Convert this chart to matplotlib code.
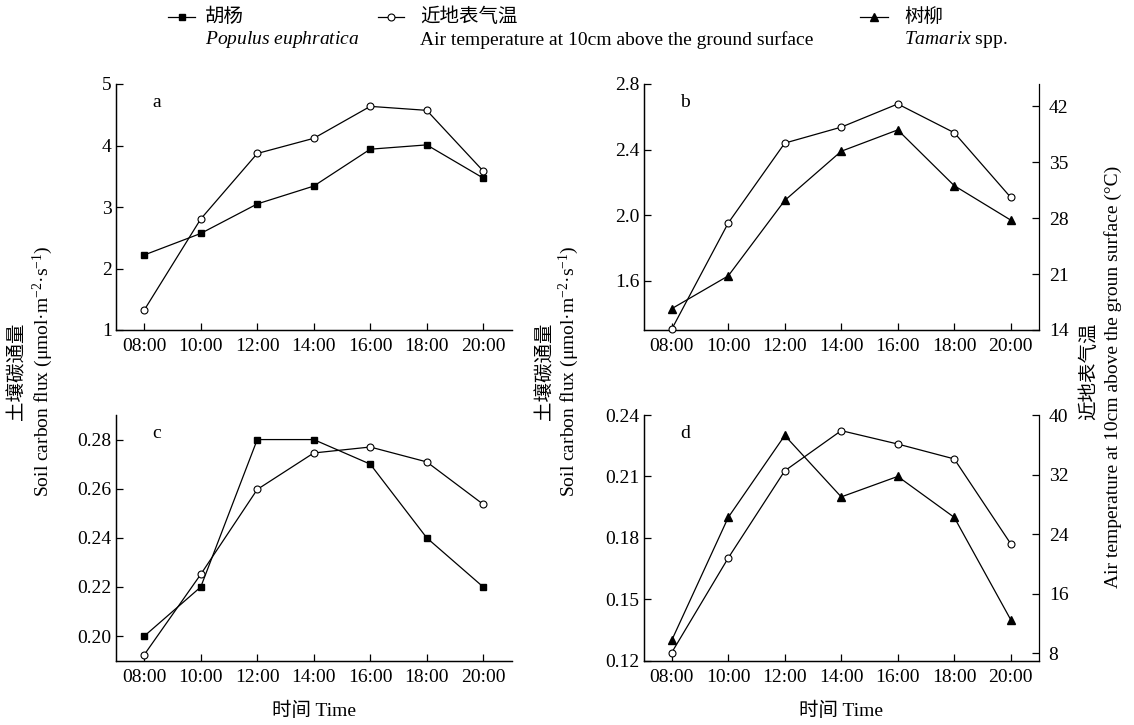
import matplotlib.pyplot as plt
from matplotlib.lines import Line2D

plt.rcParams['font.family'] = ['Liberation Serif', 'Noto Sans CJK SC']
plt.rcParams['mathtext.fontset'] = 'custom'
plt.rcParams['mathtext.rm'] = 'Liberation Serif'
plt.rcParams['mathtext.it'] = 'Liberation Serif:italic'
plt.rcParams['axes.unicode_minus'] = False

# données
times = ['08:00', '10:00', '12:00', '14:00', '16:00', '18:00', '20:00']

# a : 胡杨 / b : 树柳 (même journée)
flux_a = [2.22, 2.57, 3.05, 3.34, 3.94, 4.01, 3.47]
temp_a = [16.5, 27.9, 36.1, 38.0, 42.0, 41.5, 33.9]
flux_b = [1.43, 1.63, 2.09, 2.39, 2.52, 2.18, 1.97]
temp_b = [14.1, 27.4, 37.4, 39.4, 42.3, 38.7, 30.6]

# c : 胡杨 / d : 树柳
flux_c = [0.20, 0.22, 0.28, 0.28, 0.27, 0.24, 0.22]
temp_c = [7.8, 18.6, 30.0, 34.9, 35.7, 33.7, 28.0]
flux_d = [0.13, 0.19, 0.23, 0.20, 0.21, 0.19, 0.14]
temp_d = [8.1, 20.8, 32.5, 37.9, 36.1, 34.1, 22.7]

W, H = 1134, 725
fig = plt.figure(figsize=(W / 100, H / 100), dpi=100)

sq = dict(color='black', lw=0.9, marker='s', ms=4.8, mfc='black', mec='black', clip_on=False)
ci = dict(color='black', lw=0.9, marker='o', ms=5, mfc='white', mec='black', mew=0.8, clip_on=False)
tr = dict(color='black', lw=0.9, marker='^', ms=6, mfc='black', mec='black', clip_on=False)


def panel(rect, flux, temp, style, ylim, yticks, fmt, tlim, tticks, letter, show_right):
    ax = fig.add_axes(rect)
    x = list(range(len(times)))
    ax2 = ax.twinx()
    ax.plot(x, flux, **style, zorder=3)
    ax2.plot(x, temp, **ci, zorder=3)
    ax.set_xlim(-0.5, len(times) - 0.5)
    ax.set_xticks(x)
    ax.set_xticklabels(times)
    ax.set_ylim(*ylim)
    ax.set_yticks(yticks)
    ax.set_yticklabels([fmt.format(v) for v in yticks])
    ax2.set_ylim(*tlim)
    for a in (ax, ax2):
        a.spines['top'].set_visible(False)
        for s in a.spines.values():
            s.set_linewidth(0.9)
    ax.spines['right'].set_visible(False)
    ax.tick_params(direction='in', length=5, width=0.9, labelsize=14, pad=3)
    ax.tick_params(axis='x', pad=6)
    if show_right:
        ax2.set_yticks(tticks)
        ax2.tick_params(direction='in', length=5, width=0.9, labelsize=14, pad=7)
    else:
        ax2.spines['right'].set_visible(False)
        ax2.set_yticks([])
    ax.text(0.092, 0.925, letter, transform=ax.transAxes, fontsize=14, va='center', ha='left')
    return ax


left_x, right_x = 116 / W, 643.5 / W
w = 395.5 / W
top_y, top_h = 1 - 330 / H, 246 / H
bot_y, bot_h = 1 - 660.7 / H, 245.7 / H

panel([left_x, top_y, w, top_h], flux_a, temp_a, sq, (1, 5), [1, 2, 3, 4, 5], '{:.0f}',
      (14, 44.8), [14, 21, 28, 35, 42], 'a', False)
panel([right_x, top_y, w, top_h], flux_b, temp_b, tr, (1.3, 2.8), [1.6, 2.0, 2.4, 2.8], '{:.1f}',
      (14, 44.8), [14, 21, 28, 35, 42], 'b', True)
axc = panel([left_x, bot_y, w, bot_h], flux_c, temp_c, sq, (0.19, 0.29), [0.20, 0.22, 0.24, 0.26, 0.28],
            '{:.2f}', (7, 40), [8, 16, 24, 32, 40], 'c', False)
axd = panel([right_x, bot_y, w, bot_h], flux_d, temp_d, tr, (0.12, 0.24), [0.12, 0.15, 0.18, 0.21, 0.24],
            '{:.2f}', (7, 40), [8, 16, 24, 32, 40], 'd', True)

for ax in (axc, axd):
    ax.set_xlabel('时间 Time', fontsize=14, labelpad=11)

# titres des axes y
yc = 1 - 371 / H
flux_en = 'Soil carbon flux (μmol·m$^{-2}$·s$^{-1}$)'
for xc, xe in ((17, 43), (545, 569)):
    fig.text(xc / W, yc, '土壤碳通量', rotation=90, ha='center', va='center', fontsize=14)
    fig.text(xe / W, yc, flux_en, rotation=90, ha='center', va='center', fontsize=14)
fig.text(1089 / W, yc, '近地表气温', rotation=90, ha='center', va='center', fontsize=14)
fig.text(1113 / W, 1 - 377 / H, 'Air temperature at 10cm above the groun surface (°C)',
         rotation=90, ha='center', va='center', fontsize=14)

# légende
leg = [
    (168, 195, 205, sq, '胡杨', '$\\it{Populus\\ euphratica}$'),
    (378, 404, 420, ci, '近地表气温', 'Air temperature at 10cm above the ground surface'),
    (860, 888, 904, tr, '树柳', '$\\it{Tamarix}$ spp.'),
]
y1, y2 = 1 - 17 / H, 1 - 40 / H
for x0, x1, xt, st, zh, en in leg:
    fig.add_artist(Line2D([x0 / W, x1 / W], [y1, y1], transform=fig.transFigure,
                          color='black', lw=0.9))
    fig.add_artist(Line2D([(x0 + x1) / 2 / W], [y1], transform=fig.transFigure,
                          **{k: v for k, v in st.items() if k not in ('lw', 'clip_on')}))
    fig.text(xt / W, y1, zh, fontsize=14, va='center', ha='left')
    fig.text(xt / W, y2, en, fontsize=14, va='center', ha='left')

fig.savefig('out.png', dpi=100)
